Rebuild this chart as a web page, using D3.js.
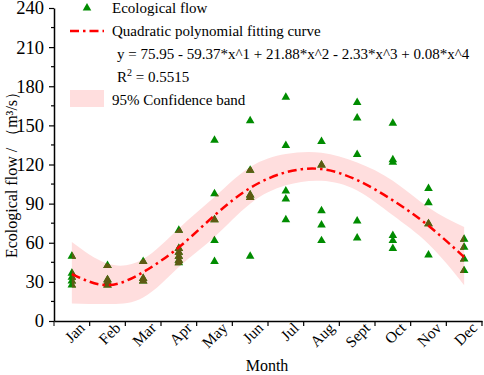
<!DOCTYPE html>
<html>
<head>
<meta charset="utf-8">
<script src="https://cdn.jsdelivr.net/npm/d3@7"></script>
<style>
  body { margin: 0; background: #fff; }
  text { font-family: "Liberation Serif", "Times New Roman", serif; fill: #000; }
</style>
</head>
<body>
<svg id="chart" width="484" height="375"></svg>
<script>
// ---- data ----
var months = ["Jan", "Feb", "Mar", "Apr", "May", "Jun", "Jul", "Aug", "Sept", "Oct", "Nov", "Dec"]
var flowByMonth = [
    [50, 37, 34, 31, 28],
    [43, 32, 30, 28],
    [46, 33, 31],
    [70, 56, 53, 50, 47, 45],
    [139, 98, 78, 62, 46],
    [154, 116, 97, 95, 50],
    [172, 135, 100, 94, 78],
    [138, 120, 85, 74, 62],
    [168, 156, 128, 77, 64],
    [152, 124, 122, 66, 62, 56],
    [102, 91, 75, 51],
    [63, 57, 48, 39]
]
var fitCurve = [36, 27.5, 37.5, 56.5, 81, 102, 114, 116.5, 108, 92.5, 73, 49]
var bandUpper = [60.5, 44, 47.5, 71, 95, 118, 128, 129, 121.5, 107.5, 87, 72]
var bandLower = [13.5, 13, 18, 41.5, 64.5, 90, 104, 107.5, 100, 81, 59, 27.5]
var yTicks = [0, 30, 60, 90, 120, 150, 180, 210, 240]

var svg = d3.select("#chart")
var margin = {top: 8, left: 54, right: 2, bottom: 54}
var W = 484, H = 375

var x = d3.scaleBand().domain(months).range([margin.left, W - margin.right])
var y = d3.scaleLinear().domain([0, 240]).range([H - margin.bottom, margin.top])
var cx = function(m){ return x(m) + x.bandwidth() / 2 }

// flatten points
var points = []
flowByMonth.forEach(function(vals, i){
    vals.forEach(function(v){ points.push({month: months[i], value: v}) })
})

//===================== band + points ====================
var bandArea = d3.area()
    .x(function(d, i){ return cx(months[i]) })
    .y0(function(d, i){ return y(bandLower[i]) })
    .y1(function(d){ return y(d) })
    .curve(d3.curveNatural)

svg.append("clipPath").attr("id", "bandclip")
    .append("path").attr("d", bandArea(bandUpper))

svg.append("path")
    .attr("d", bandArea(bandUpper))
    .attr("fill", "#ffdede")

var tri = d3.symbol().type(d3.symbolTriangle).size(32)

svg.append("g").selectAll("path")
    .data(points).enter().append("path")
    .attr("d", tri)
    .attr("transform", function(d){ return "translate(" + cx(d.month) + "," + (y(d.value) + 0.5) + ")" })
    .attr("fill", "#008c00")

// triangles inside the band come out olive in the original
svg.append("g").attr("clip-path", "url(#bandclip)")
    .selectAll("path")
    .data(points).enter().append("path")
    .attr("d", tri)
    .attr("transform", function(d){ return "translate(" + cx(d.month) + "," + (y(d.value) + 0.5) + ")" })
    .attr("fill", "#5e5a12")

var fitLine = d3.line()
    .x(function(d, i){ return cx(months[i]) })
    .y(function(d){ return y(d) })
    .curve(d3.curveNatural)

svg.append("path")
    .attr("d", fitLine(fitCurve))
    .attr("fill", "none")
    .attr("stroke", "#ff0000")
    .attr("stroke-width", 2.5)
    .attr("stroke-dasharray", "9,4,2.5,4")

//===================== axes ====================
var yAxis = svg.append("g")
    .attr("transform", "translate(" + margin.left + ",0)")
    .call(d3.axisLeft(y).tickValues(yTicks).tickSize(5).tickPadding(5).tickSizeOuter(0))
yAxis.selectAll("text").style("font-size", "18.5px")
// minor ticks
yAxis.selectAll(".minor")
    .data(d3.range(15, 240, 30)).enter().append("line")
    .attr("class", "minor")
    .attr("x1", -3).attr("x2", 0)
    .attr("y1", function(d){ return y(d) }).attr("y2", function(d){ return y(d) })
    .attr("stroke", "#000")

var xAxis = svg.append("g")
    .attr("transform", "translate(0," + y(0) + ")")
    .call(d3.axisBottom(x).tickSize(0).tickSizeOuter(0))
xAxis.selectAll(".tick text")
    .style("font-size", "15.5px")
    .attr("text-anchor", "end")
    .attr("transform", "translate(8,2) rotate(-45)")
    .attr("dy", "0.35em")
// boundary ticks
xAxis.selectAll(".bound")
    .data(months).enter().append("line")
    .attr("class", "bound")
    .attr("x1", function(d){ return x(d) + x.bandwidth() }).attr("x2", function(d){ return x(d) + x.bandwidth() })
    .attr("y1", 0).attr("y2", 5)
    .attr("stroke", "#000")
xAxis.append("line").attr("x1", margin.left).attr("x2", margin.left).attr("y1", 0).attr("y2", 5).attr("stroke", "#000")

svg.selectAll(".domain").attr("stroke-width", 1.5)
svg.selectAll(".tick line, .minor, .bound").attr("stroke-width", 1.2)

svg.append("text")
    .attr("x", 267)
    .attr("y", 371)
    .attr("text-anchor", "middle")
    .style("font-size", "16px")
    .text("Month")

svg.append("text")
    .attr("transform", "translate(17,171) rotate(-90)")
    .attr("text-anchor", "middle")
    .style("font-size", "16px")
    .text("Ecological flow / （m³/s）")

//===================== legend ====================
var leg = svg.append("g").style("font-size", "15px")
leg.append("path").attr("d", tri).attr("transform", "translate(87,8)").attr("fill", "#008c00")
leg.append("text").attr("x", 112).attr("y", 13).text("Ecological flow")
leg.append("line").attr("x1", 70).attr("x2", 104).attr("y1", 31).attr("y2", 31)
    .attr("stroke", "#ff0000").attr("stroke-width", 2.5).attr("stroke-dasharray", "9,4,2.5,4")
leg.append("text").attr("x", 112).attr("y", 36).text("Quadratic polynomial fitting curve")
leg.append("text").attr("x", 117).attr("y", 59)
    .text("y = 75.95 - 59.37*x^1 + 21.88*x^2 - 2.33*x^3 + 0.08*x^4")
var r2 = leg.append("text").attr("x", 117).attr("y", 82)
r2.append("tspan").text("R")
r2.append("tspan").attr("dy", -6).style("font-size", "10px").text("2")
r2.append("tspan").attr("dy", 6).text(" = 0.5515")
leg.append("rect").attr("x", 70).attr("y", 90).attr("width", 34).attr("height", 17).attr("fill", "#ffdede")
leg.append("text").attr("x", 112).attr("y", 105).text("95% Confidence band")
</script>
</body>
</html>
